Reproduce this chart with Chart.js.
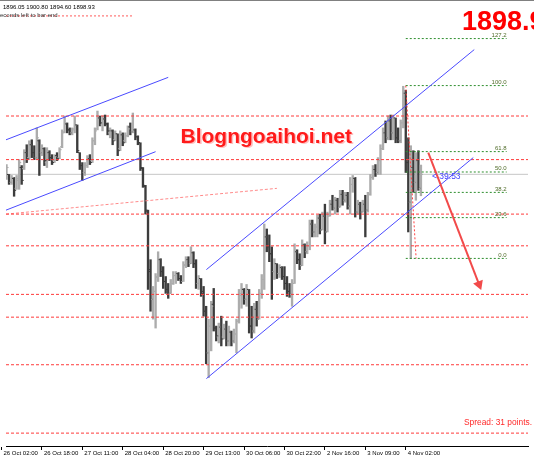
<!DOCTYPE html>
<html><head><meta charset="utf-8">
<script src="https://cdn.jsdelivr.net/npm/chart.js@4.4.1/dist/chart.umd.min.js"></script>
<style>html,body{margin:0;padding:0;background:#fff;}canvas{display:block;}</style>
</head><body>
<canvas id="c" width="534" height="462"></canvas>
<script>
// ---- data (XAUUSD H1) ----
const tickLabels = ["26 Oct 02:00","26 Oct 18:00","27 Oct 11:00","28 Oct 04:00","28 Oct 20:00","29 Oct 13:00","30 Oct 06:00","30 Oct 22:00","2 Nov 16:00","3 Nov 09:00","4 Nov 02:00"];
const barsPerTick = 16;
const firstBar = 2;
const highs = [
1900.9,1898.9,1898.7,1898.3,1898.7,1901.9,1900.7,1903.9,1904.9,1905.7,
1905.9,1904.7,1908.3,1905.9,1904.9,1904.3,1904.3,1903.7,1902.9,1902.9,
1903.3,1904.3,1907.9,1910.7,1909.3,1908.3,1908.3,1910.7,1908.9,1903.3,
1901.3,1901.3,1902.7,1902.9,1906.3,1908.3,1911.7,1910.7,1910.7,1910.9,
1909.3,1908.3,1907.9,1907.7,1907.1,1907.7,1907.3,1907.3,1908.7,1909.3,
1911.3,1908.1,1906.7,1905.3,1900.3,1896.7,1891.7,1881.7,1876.3,1878.9,
1883.3,1881.9,1880.3,1878.3,1876.9,1877.7,1879.3,1879.3,1879.1,1878.5,
1881.3,1882.3,1882.3,1884.3,1883.3,1881.7,1878.5,1877.9,1876.3,1872.3,
1869.7,1873.3,1875.9,1868.3,1868.9,1870.3,1868.7,1869.3,1868.3,1867.3,
1867.7,1869.7,1875.7,1876.9,1875.9,1876.7,1875.7,1872.3,1872.9,1873.3,
1875.7,1878.7,1888.9,1887.9,1886.7,1884.3,1881.9,1880.9,1880.7,1880.3,
1880.3,1878.3,1876.9,1877.7,1884.9,1883.7,1882.9,1885.7,1884.9,1885.3,
1889.7,1889.7,1888.9,1890.7,1890.9,1891.3,1892.9,1891.3,1893.7,1894.7,
1894.3,1894.1,1895.7,1895.7,1895.3,1895.3,1898.3,1898.7,1898.3,1893.7,
1893.3,1893.7,1894.7,1895.3,1898.9,1900.7,1900.9,1902.3,1904.9,1908.3,
1909.7,1910.7,1910.9,1910.9,1910.3,1908.3,1909.9,1916.7,1915.9,1906.3,
1904.7,1903.7,1903.3,1903.7,1900.80];
const lows = [
1897.9,1896.9,1896.9,1894.5,1895.9,1895.9,1896.9,1899.9,1901.3,1901.9,
1902.3,1901.9,1901.9,1898.7,1902.7,1900.7,1900.3,1901.7,1900.9,1901.3,
1901.7,1902.1,1904.3,1907.3,1907.3,1906.9,1906.9,1907.3,1903.3,1899.9,
1897.7,1898.7,1900.3,1900.9,1901.3,1904.9,1907.9,1908.7,1907.7,1908.7,
1906.9,1906.3,1904.9,1905.7,1902.7,1903.7,1904.7,1905.3,1906.5,1906.9,
1907.3,1905.9,1904.9,1899.7,1896.3,1890.9,1875.7,1871.3,1869.7,1867.9,
1877.3,1878.3,1875.9,1874.9,1873.9,1874.9,1876.7,1876.9,1877.5,1876.9,
1877.3,1880.1,1880.3,1880.9,1880.1,1875.9,1875.7,1874.3,1870.3,1860.7,
1857.9,1863.3,1867.3,1865.3,1864.9,1864.3,1865.7,1864.3,1864.3,1864.3,
1864.9,1862.9,1868.9,1871.9,1872.7,1872.3,1866.9,1865.9,1866.9,1868.3,
1869.7,1873.9,1875.7,1883.3,1881.3,1873.7,1877.7,1877.9,1878.1,1877.7,
1875.7,1874.3,1874.1,1872.3,1876.9,1880.9,1879.7,1880.5,1882.1,1882.9,
1883.7,1886.3,1886.3,1886.3,1886.9,1887.7,1884.9,1887.3,1890.5,1891.7,
1890.9,1891.3,1892.3,1892.7,1893.3,1891.9,1890.9,1895.3,1890.3,1890.9,
1889.9,1891.3,1886.3,1891.3,1894.7,1897.9,1898.5,1898.9,1898.9,1903.9,
1905.3,1905.9,1905.9,1905.9,1905.3,1905.3,1905.3,1908.3,1899.3,1887.3,
1881.9,1895.3,1893.7,1895.7,1894.60];
const opens = [
1898.3,1898.9,1897.3,1898.1,1896.1,1897.7,1900.3,1900.1,1903.3,1902.3,
1904.9,1903.3,1902.3,1905.7,1903.3,1904.1,1901.3,1903.3,1902.3,1901.7,
1902.7,1902.3,1904.5,1907.5,1909.1,1907.9,1907.3,1907.9,1908.9,1903.3,
1900.7,1899.3,1900.7,1902.1,1901.7,1905.7,1908.1,1910.3,1908.9,1910.1,
1909.1,1907.3,1907.7,1905.9,1907.1,1904.1,1906.9,1905.7,1906.7,1908.5,
1907.5,1907.9,1906.5,1905.3,1900.1,1896.5,1891.5,1879.7,1873.7,1875.3,
1878.1,1881.7,1879.3,1877.3,1875.7,1874.9,1876.9,1878.5,1878.9,1877.9,
1877.3,1880.5,1881.7,1880.9,1883.1,1880.9,1876.9,1877.9,1875.3,1871.3,
1862.9,1868.3,1872.7,1867.9,1866.1,1868.1,1866.1,1867.7,1865.3,1867.1,
1865.3,1866.7,1869.3,1874.5,1875.7,1873.7,1875.7,1868.3,1867.3,1871.7,
1869.7,1874.9,1877.7,1886.3,1884.3,1882.9,1879.3,1880.9,1878.9,1880.1,
1878.3,1876.9,1875.3,1874.7,1876.9,1883.3,1881.7,1880.5,1884.7,1883.3,
1884.5,1888.9,1887.3,1888.3,1890.1,1887.7,1890.5,1887.3,1890.5,1892.9,
1892.1,1893.7,1892.3,1894.9,1893.7,1894.7,1892.5,1896.9,1898.1,1891.3,
1892.9,1891.3,1892.9,1891.7,1894.9,1898.3,1899.9,1899.3,1901.7,1904.1,
1907.3,1906.3,1909.7,1907.3,1910.3,1906.3,1905.7,1909.3,1915.3,1901.3,
1893.3,1900.3,1897.3,1901.7,1896.05];
const closes = [
1900.3,1897.3,1898.3,1895.7,1898.1,1901.3,1897.7,1903.3,1902.1,1904.9,
1903.3,1902.3,1906.3,1903.3,1904.3,1901.7,1903.3,1902.3,1901.3,1902.5,
1902.1,1903.9,1907.3,1909.3,1907.9,1907.3,1908.1,1908.9,1903.7,1900.7,
1899.3,1900.7,1902.1,1901.3,1905.7,1907.7,1910.3,1909.3,1910.1,1909.1,
1907.7,1907.9,1905.7,1907.1,1903.7,1906.9,1905.3,1906.7,1908.1,1907.5,
1908.1,1906.5,1905.3,1900.3,1896.7,1891.7,1879.3,1873.7,1875.3,1878.3,
1881.7,1879.3,1877.3,1875.7,1874.9,1876.9,1878.5,1879.1,1877.9,1877.3,
1880.7,1881.7,1880.9,1883.3,1880.9,1876.9,1877.9,1874.9,1871.3,1862.9,
1868.3,1872.3,1867.9,1866.3,1868.1,1865.7,1867.7,1865.3,1867.3,1865.3,
1866.7,1869.3,1874.9,1875.9,1873.7,1875.7,1868.3,1867.3,1871.7,1869.7,
1874.9,1877.7,1886.3,1884.3,1882.9,1879.3,1880.9,1878.9,1880.1,1878.3,
1876.9,1875.3,1874.7,1876.9,1883.3,1881.7,1880.5,1884.7,1883.3,1884.5,
1888.9,1887.3,1888.3,1890.1,1887.7,1890.5,1887.3,1890.5,1892.9,1892.1,
1893.7,1892.3,1894.9,1893.7,1894.7,1892.5,1896.9,1898.3,1891.3,1892.9,
1891.3,1892.9,1891.7,1894.9,1898.3,1899.9,1899.3,1901.7,1904.1,1907.3,
1906.3,1909.7,1907.3,1910.3,1906.3,1905.7,1909.3,1915.3,1901.3,1893.3,
1900.3,1897.3,1901.7,1896.1,1898.93];

// chart objects (bar index / price anchors)
const levelPrices = [1910.7, 1901.9, 1890.9, 1884.5, 1874.7, 1870.1, 1860.5, 1846.7];
const topLevel = { price: 1930.9, fromIdx: 1.8, toIdx: 52.1 };
const bidPrice = 1898.93;
const slantedLine = [[1.8, 1890.9], [109.0, 1896.1]];
const channelLines = [
  [[1.8, 1905.9], [66.0, 1918.5]],
  [[1.8, 1891.7], [61.0, 1903.5]],
  [[81.1, 1857.7], [186.7, 1902.3]],
  [[81.1, 1879.7], [187.1, 1924.1]]
];
const fibHigh = 1916.84, fibLow = 1881.96;
const fibLevels = [0, 23.6, 38.2, 50, 61.8, 100, 127.2];
const fibStartIdx = 160.0, fibEndIdx = 199.9, fibTrendEndIdx = 164.1;
const arrowLine = [[168.9, 1903.3], [189.0, 1876.7]];
const headerText = "1896.05 1900.80 1894.60 1898.93";
const timerText = "< 39:53";
const bigPrice = "1898.9";
const spreadText = "Spread: 31 points.";
const infoText = "econds left to bar end";
const watermark = "Blogngoaihoi.net";

// ---- view ----
const viewMin = 1.8, viewMax = 208.37;
const priceMin = 1844.1, priceMax = 1932.9;
const UP = '#acacac', DOWN = '#3c3c3c';

const idx = highs.map((_, k) => firstBar + k);
const isUp = closes.map((c, k) => c >= opens[k]);
const barColors = isUp.map(u => u ? UP : DOWN);

const lineDs = (pts, color, dash, width, order) => ({
  type: 'line', data: pts.map(p => ({x: p[0], y: p[1]})),
  borderColor: color, borderWidth: width || 1, borderDash: dash || [],
  pointRadius: 0, fill: false, tension: 0, order: order == null ? 1 : order
});

const datasets = [];
datasets.push(lineDs([[viewMin, bidPrice], [viewMax, bidPrice]], '#c6c6c6', [], 1, 20));
datasets.push({
  type: 'bar', data: idx.map((x, k) => ({x, y: [lows[k], highs[k]]})),
  backgroundColor: barColors, borderWidth: 0, barThickness: 1.7, order: 5
});
datasets.push({
  type: 'line', showLine: false, data: idx.map((x, k) => ({x: x - 0.5, y: opens[k]})),
  pointStyle: 'line', pointRadius: 0.8, pointBorderWidth: 1, pointBorderColor: barColors, order: 4
});
datasets.push({
  type: 'line', showLine: false, data: idx.map((x, k) => ({x: x + 0.5, y: closes[k]})),
  pointStyle: 'line', pointRadius: 0.8, pointBorderWidth: 1, pointBorderColor: barColors, order: 4
});
levelPrices.forEach(p => datasets.push(lineDs([[viewMin, p], [viewMax, p]], '#ff3a3a', [3, 2], 1, 2)));
datasets.push(lineDs([[topLevel.fromIdx, topLevel.price], [topLevel.toIdx, topLevel.price]], '#ff5a5a', [2, 2], 1, 2));
datasets.push(lineDs(slantedLine, '#ff8a8a', [3, 2], 1, 2));
channelLines.forEach(l => datasets.push(lineDs(l, '#4a4aff', [], 1, 1)));
fibLevels.forEach(l => {
  const p = fibLow + (fibHigh - fibLow) * l / 100;
  datasets.push(lineDs([[fibStartIdx, p], [fibEndIdx, p]], '#2f8f2f', [2, 2], 1, 1));
});
datasets.push(lineDs([[fibStartIdx, fibHigh], [fibTrendEndIdx, fibLow]], '#ff4040', [2, 2], 1, 1));
const arrow = lineDs(arrowLine, '#f24a4a', [], 2, 0);
arrow.pointRadius = [0, 4];
arrow.pointStyle = 'triangle';
arrow.pointRotation = 158.6;
arrow.pointBackgroundColor = '#f24a4a';
arrow.pointBorderColor = '#f24a4a';
datasets.push(arrow);

const overlay = {
  id: 'overlay',
  afterDraw(chart) {
    const {ctx, scales: {x, y}} = chart;
    ctx.save();
    ctx.strokeStyle = '#808080'; ctx.lineWidth = 1;
    ctx.beginPath(); ctx.moveTo(0, 0.5); ctx.lineTo(chart.width, 0.5); ctx.stroke();
    // fib labels
    ctx.font = '6px "Liberation Sans"'; ctx.fillStyle = '#4f6b28';
    ctx.textAlign = 'right'; ctx.textBaseline = 'bottom';
    fibLevels.forEach(l => {
      const p = fibLow + (fibHigh - fibLow) * l / 100;
      ctx.fillText(l.toFixed(1), x.getPixelForValue(fibEndIdx), y.getPixelForValue(p) - 0.5);
    });
    // header texts
    ctx.textAlign = 'left'; ctx.textBaseline = 'middle';
    ctx.fillStyle = '#000'; ctx.font = '6px "Liberation Sans"';
    ctx.fillText(headerText, 3, 7);
    ctx.fillStyle = '#333'; ctx.fillText(infoText, 0, 15);
    // timer
    ctx.fillStyle = '#4040ff'; ctx.font = '8.5px "Liberation Sans"';
    ctx.fillText(timerText, 432, 177);
    // spread
    ctx.fillStyle = '#ff2a2a'; ctx.font = '8.4px "Liberation Sans"';
    ctx.fillText(spreadText, 464, 423);
    // big price
    ctx.textBaseline = 'alphabetic';
    ctx.fillStyle = '#ff0000'; ctx.font = 'bold 27px "Liberation Sans"';
    ctx.fillText(bigPrice, 462, 30);
    // watermark
    ctx.font = 'bold 21px "Liberation Sans"';
    ctx.fillStyle = '#ffc0c0'; ctx.fillText(watermark, 182, 144);
    ctx.fillStyle = '#ff1a1a'; ctx.fillText(watermark, 180.5, 142.5);
    ctx.restore();
  }
};

new Chart(document.getElementById('c'), {
  type: 'bar',
  data: { datasets },
  options: {
    responsive: false, animation: false, devicePixelRatio: 1, events: [],
    layout: { padding: { top: 2, left: 0, right: 0, bottom: 0 } },
    plugins: { legend: { display: false }, tooltip: { enabled: false } },
    scales: {
      x: {
        type: 'linear', min: viewMin, max: viewMax, offset: false,
        afterBuildTicks: s => { s.ticks = tickLabels.map((_, k) => ({ value: k * barsPerTick })); },
        afterFit: s => { s.height = 16; s.paddingLeft = 0; s.paddingRight = 0; },
        grid: { display: true, drawOnChartArea: false, drawTicks: true, tickLength: 4, color: '#000', lineWidth: 1, offset: false },
        border: { display: true, color: '#000', width: 1 },
        ticks: { autoSkip: false, maxRotation: 0, minRotation: 0, align: 'start', labelOffset: 2, padding: 0,
          color: '#000', font: { family: 'Liberation Sans', size: 6 },
          callback: (v, k) => tickLabels[k] }
      },
      y: { type: 'linear', display: false, min: priceMin, max: priceMax }
    }
  },
  plugins: [overlay]
});
</script>
</body></html>
